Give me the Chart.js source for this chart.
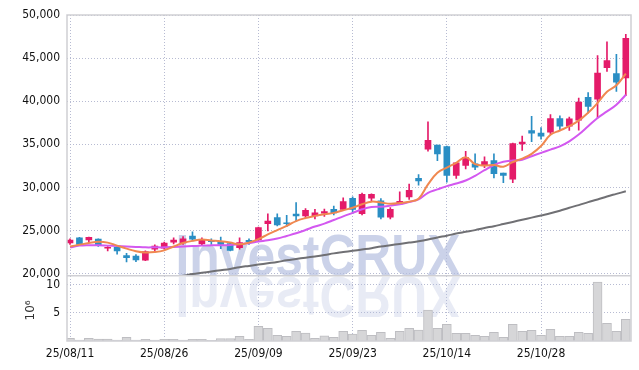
<!DOCTYPE html>
<html>
<head>
<meta charset="utf-8">
<script src="https://cdn.jsdelivr.net/npm/chart.js@4/dist/chart.umd.min.js"></script>
<style>
html, body { margin: 0; padding: 0; background: #fff; }
</style>
</head>
<body>
<canvas id="chart" width="639" height="370"></canvas>
<script>
'use strict';

// trading days, 25/08/11 .. 25/11/10
var dates = [
	'25/08/11', '25/08/12', '25/08/13', '25/08/14', '25/08/18', '25/08/19', '25/08/20', '25/08/21', '25/08/22', '25/08/25',
	'25/08/26', '25/08/27', '25/08/28', '25/08/29', '25/09/01', '25/09/02', '25/09/03', '25/09/04', '25/09/05', '25/09/08',
	'25/09/09', '25/09/10', '25/09/11', '25/09/12', '25/09/15', '25/09/16', '25/09/17', '25/09/18', '25/09/19', '25/09/22',
	'25/09/23', '25/09/24', '25/09/25', '25/09/26', '25/09/29', '25/09/30', '25/10/01', '25/10/02', '25/10/10', '25/10/13',
	'25/10/14', '25/10/15', '25/10/16', '25/10/17', '25/10/20', '25/10/21', '25/10/22', '25/10/23', '25/10/24', '25/10/27',
	'25/10/28', '25/10/29', '25/10/30', '25/10/31', '25/11/03', '25/11/04', '25/11/05', '25/11/06', '25/11/07', '25/11/10'
];
var tickLabels = ['25/08/11', '25/08/26', '25/09/09', '25/09/23', '25/10/14', '25/10/28'];
var priceTicks = [20000, 25000, 30000, 35000, 40000, 45000, 50000];
var volumeTicks = [5, 10];

var openP = [
	23550, 24150, 23900, 24000, 22950, 23050, 22100, 22050, 21550, 22850,
	22950, 23650, 23550, 24350, 23450, 23850, 23700, 23500, 23000, 23850,
	23900, 25800, 26500, 25900, 26900, 26700, 26700, 27000, 27450, 27450,
	28750, 26950, 28750, 28450, 26550, 28100, 28900, 31050, 34450, 34900,
	34750, 31400, 32550, 32750, 32650, 33100, 31650, 30950, 35050, 36600,
	36300, 36400, 38000, 37100, 37800, 40450, 40250, 43900, 43200, 42700
];
var highP = [
	24050, 24200, 24250, 24050, 23150, 23150, 22350, 22200, 22650, 23350,
	23650, 24150, 24300, 24850, 24150, 24050, 24250, 23550, 24150, 24050,
	25400, 26950, 26950, 26750, 28250, 27550, 27450, 27500, 27850, 28800,
	28900, 29350, 29250, 28700, 27650, 29500, 30400, 31500, 37600, 34900,
	34800, 32900, 34200, 33900, 33550, 33900, 31650, 35150, 35950, 38250,
	36950, 38450, 38300, 38150, 40350, 41000, 45300, 46900, 45450, 47750
];
var lowP = [
	23400, 23350, 23600, 23150, 22650, 22250, 21350, 21400, 21500, 22600,
	22850, 23450, 23400, 23800, 23350, 23400, 22900, 22650, 22850, 23400,
	23850, 24950, 25550, 25450, 26100, 26500, 26350, 26650, 26800, 27350,
	26950, 26800, 28400, 26350, 26350, 28050, 28600, 30250, 34200, 33100,
	30600, 31050, 32150, 32050, 32300, 31100, 30550, 30550, 34300, 35300,
	35600, 36200, 36600, 36600, 36650, 38650, 38050, 43450, 41150, 40650
];
var closeP = [
	23900, 23400, 24200, 23350, 23050, 22650, 21850, 21600, 22550, 23200,
	23550, 23900, 24050, 24000, 23850, 23700, 23400, 22700, 23600, 23700,
	25350, 26100, 25650, 25800, 26700, 27350, 27050, 27200, 27050, 28350,
	27450, 29200, 29200, 26550, 27450, 28400, 29650, 30750, 35450, 33900,
	31400, 32850, 33450, 32350, 33000, 31600, 31400, 35100, 35250, 36300,
	35950, 38000, 37100, 37950, 39900, 39400, 43250, 44700, 42200, 47300
];
// volume, millions
var volume = [
	0.48, 0.18, 0.48, 0.36, 0.36, 0.18, 0.65, 0.18, 0.3, 0.18,
	0.3, 0.3, 0.18, 0.3, 0.3, 0.12, 0.42, 0.42, 0.83, 0.3,
	2.6, 2.26, 1.0, 0.83, 1.73, 1.43, 0.48, 0.9, 0.65, 1.73,
	1.25, 1.9, 1.0, 1.55, 0.48, 1.73, 2.26, 1.96, 5.48, 2.26,
	2.98, 1.37, 1.37, 1.0, 0.83, 1.55, 0.65, 2.98, 1.73, 1.9,
	1.0, 2.08, 0.83, 0.83, 1.55, 1.37, 10.5, 3.15, 1.73, 3.87
];
var maShort = [
	23150, 23350, 23550, 23700, 23600, 23250, 22900, 22600, 22450, 22500,
	22700, 23150, 23550, 23800, 23950, 23850, 23750, 23600, 23400, 23600,
	24000, 24550, 25050, 25550, 26100, 26450, 26700, 26900, 27050, 27350,
	27650, 28050, 28350, 28250, 28100, 28200, 28350, 28700, 30350, 31700,
	32300, 32850, 33500, 32700, 32550, 32600, 32400, 32950, 33350, 33900,
	34800, 36100, 36600, 37100, 37750, 38650, 39800, 41100, 41850, 43200
];
var maMid = [
	23050, 23250, 23300, 23300, 23250, 23200, 23150, 23100, 23050, 23050,
	23050, 23100, 23150, 23200, 23250, 23280, 23300, 23330, 23430, 23530,
	23720, 23870, 24070, 24370, 24680, 25060, 25460, 25800, 26220, 26650,
	27050, 27460, 27730, 27770, 27890, 28040, 28310, 28610, 29380, 29770,
	30150, 30450, 30800, 31350, 32000, 32600, 32970, 33120, 33220, 33620,
	34010, 34390, 34770, 35350, 36130, 37090, 38060, 38820, 39590, 40750
];
var maLong = [
	null, null, null, null, null, null, null, null, null, null,
	19450, 19600, 19750, 19950, 20100, 20250, 20400, 20550, 20750, 20900,
	21050, 21200, 21350, 21550, 21700, 21850, 22000, 22150, 22350, 22500,
	22650, 22800, 22950, 23150, 23300, 23450, 23600, 23750, 23950, 24200,
	24400, 24650, 24850, 25050, 25300, 25500, 25750, 26000, 26250, 26500,
	26750, 27000, 27300, 27650, 27950, 28300, 28600, 28950, 29250, 29550
];

var FONT = "'DejaVu Sans Condensed', 'DejaVu Sans', sans-serif";
var TEXT = '#111';
var GRID = 'rgba(175, 180, 205, 0.9)';
var FRAME = '#cfcfd4';
var UP = 'rgb(228, 27, 105)';
var DOWN = 'rgb(42, 142, 196)';

var bodies = [], wicks = [], vols = [], lineA = [], lineB = [], lineC = [];
for (var i = 0; i < dates.length; i++) {
	bodies.push({x: i, y: [openP[i], closeP[i]]});
	wicks.push({x: i, y: [lowP[i], highP[i]]});
	vols.push({x: i, y: volume[i]});
	lineA.push({x: i, y: maShort[i]});
	lineB.push({x: i, y: maMid[i]});
	lineC.push({x: i, y: maLong[i]});
}

function candleColor(ctx) {
	var k = ctx.dataIndex;
	return closeP[k] >= openP[k] ? UP : DOWN;
}

function fixedTicks(values) {
	return function (scale) {
		scale.ticks = values.map(function (v) { return {value: v}; });
	};
}

var decor = {
	id: 'decor',
	beforeDatasetsDraw: function (chart) {
		var ctx = chart.ctx;
		var y = chart.scales.y;
		var cx = 318, base = y.bottom;
		ctx.save();
		ctx.font = "bold 58px 'Liberation Sans', Arial, sans-serif";
		ctx.textAlign = 'center';
		ctx.textBaseline = 'alphabetic';
		ctx.fillStyle = 'rgba(178, 188, 222, 0.68)';
		ctx.fillText('InvestCRUX', cx, base - 1, 285);
		ctx.translate(0, base + 1);
		ctx.scale(1, -1);
		ctx.fillStyle = 'rgba(178, 188, 222, 0.3)';
		ctx.fillText('InvestCRUX', cx, 0, 285);
		ctx.restore();
	},
	afterDraw: function (chart) {
		var ctx = chart.ctx;
		var a = chart.chartArea;
		var y = chart.scales.y;
		ctx.save();
		ctx.strokeStyle = FRAME;
		ctx.lineWidth = 1.5;
		ctx.strokeRect(a.left, a.top, a.right - a.left, a.bottom - a.top);
		ctx.beginPath();
		ctx.moveTo(a.left, y.bottom);
		ctx.lineTo(a.right, y.bottom);
		ctx.stroke();
		// volume unit
		var v = chart.scales.yv;
		ctx.translate(31, (v.top + v.bottom) / 2 + 2);
		ctx.rotate(-Math.PI / 2);
		ctx.font = "12px 'DejaVu Sans', sans-serif";
		ctx.fillStyle = '#333';
		ctx.textAlign = 'center';
		ctx.textBaseline = 'middle';
		ctx.fillText('10\u2076', 0, 0);
		ctx.restore();
	}
};

var chart = new Chart(document.getElementById('chart'), {
	type: 'bar',
	data: {
		datasets: [
			{type: 'line', data: lineA, yAxisID: 'y', borderColor: 'rgb(240, 136, 80)', borderWidth: 2, pointRadius: 0, tension: 0.4, order: 0},
			{type: 'line', data: lineB, yAxisID: 'y', borderColor: 'rgb(211, 88, 240)', borderWidth: 2, pointRadius: 0, tension: 0.4, order: 0},
			{type: 'line', data: lineC, yAxisID: 'y', borderColor: 'rgb(112, 112, 116)', borderWidth: 2, pointRadius: 0, tension: 0.4, order: 0},
			{data: bodies, yAxisID: 'y', backgroundColor: candleColor, barThickness: 6, grouped: false, order: 1},
			{data: wicks, yAxisID: 'y', backgroundColor: candleColor, barThickness: 1, grouped: false, order: 2},
			{data: vols, yAxisID: 'yv', backgroundColor: 'rgb(214, 214, 216)', borderColor: 'rgb(190, 190, 194)', borderWidth: 1, barThickness: 9, grouped: false, order: 3}
		]
	},
	options: {
		responsive: false,
		animation: false,
		layout: {padding: {top: 15, right: 8, left: 0, bottom: 0}},
		plugins: {legend: {display: false}, tooltip: {enabled: false}},
		scales: {
			x: {
				type: 'linear',
				offset: false,
				min: -0.32,
				max: 59.55,
				afterBuildTicks: function (scale) {
					scale.ticks = tickLabels.map(function (l) { return {value: dates.indexOf(l)}; });
				},
				afterFit: function (scale) { scale.height = 29; },
				ticks: {
					autoSkip: false,
					maxRotation: 0,
					padding: 6,
					color: TEXT,
					font: {family: FONT, size: 12},
					callback: function (v) { return dates[v]; }
				},
				grid: {color: GRID, drawTicks: false, offset: false, borderDash: [1, 2]},
				border: {display: false, dash: [1, 2]}
			},
			yv: {
				position: 'left',
				stack: 'panels',
				stackWeight: 1,
				min: 0,
				max: 11.6,
				afterBuildTicks: fixedTicks(volumeTicks),
				afterFit: function (scale) { scale.width = 67; },
				ticks: {padding: 7, color: TEXT, font: {family: FONT, size: 12}},
				grid: {color: GRID, drawTicks: false, borderDash: [1, 2]},
				border: {display: false, dash: [1, 2]}
			},
			y: {
				position: 'left',
				stack: 'panels',
				stackWeight: 4,
				min: 19750,
				max: 50000,
				afterBuildTicks: fixedTicks(priceTicks),
				afterFit: function (scale) { scale.width = 67; },
				ticks: {
					padding: 7,
					color: TEXT,
					font: {family: FONT, size: 12},
					callback: function (v) { return v.toLocaleString('en-US'); }
				},
				grid: {color: GRID, drawTicks: false, borderDash: [1, 2]},
				border: {display: false, dash: [1, 2]}
			}
		}
	},
	plugins: [decor]
});
</script>
</body>
</html>
